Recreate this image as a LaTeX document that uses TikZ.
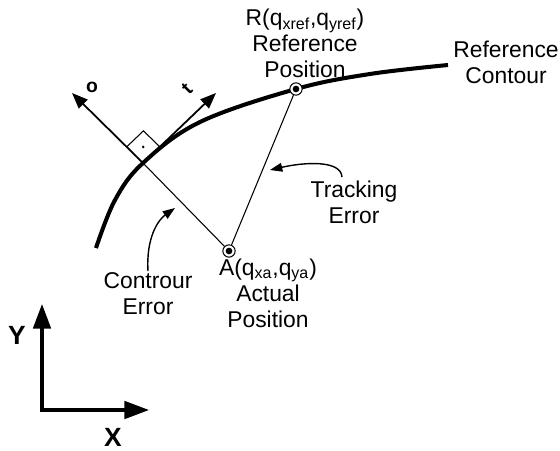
\documentclass[tikz,border=0pt]{standalone}
\usepackage{fontspec}
\setmainfont{Liberation Sans}
\usetikzlibrary{arrows.meta,calc}

\begin{document}
\begin{tikzpicture}[x=0.02cm, y=-0.02cm,
  every node/.style={font=\fontsize{13}{14.8}\selectfont, align=center, inner sep=0pt},
  contour/.style={line width=2.3pt},
  thinline/.style={line width=0.6pt},
  axis/.style={line width=1.8pt, {Triangle[length=14pt,width=10pt]}-{Triangle[length=14pt,width=10pt]}},
  vec/.style={line width=1pt, -{Triangle[length=9pt,width=7pt]}},
  note/.style={line width=0.8pt, -{Triangle[length=7pt,width=5pt]}},
  posmark/.style={circle, draw, line width=0.6pt, fill=white, minimum size=7pt},
  axlabel/.style={font=\fontsize{15}{18}\selectfont\bfseries},
  veclabel/.style={font=\fontsize{11}{13}\selectfont\bfseries}]
\useasboundingbox (0,0) rectangle (560,450);

% === Reference contour ===
\draw[contour] plot[smooth, tension=0.6] coordinates
  {(96,248) (115,200) (143,163) (200,122) (296,89) (370,74) (448,65)};

% === Points ===
\coordinate (F) at (143,163);
\coordinate (O) at (72,93);
\coordinate (T) at (216,93);
\node[posmark] (R) at (296,89) {};
\node[posmark] (A) at (229,251) {};
\fill (R) circle (1.9pt);
\fill (A) circle (1.9pt);

% Errors
\draw[thinline] (A) -- (F);
\draw[thinline] (A) -- (R);

% Normal and tangent
\draw[vec] (F) -- (O);
\draw[vec] (F) -- (T);
\coordinate (sqt) at ($(F)!0.23!(T)$);
\coordinate (sqo) at ($(F)!0.23!(O)$);
\draw[thinline] (sqt) -- ($(sqt)+(sqo)-(F)$) -- (sqo);
\fill ($(F)!0.5!($(sqt)+(sqo)-(F)$)$) circle (0.8pt);
\node[veclabel] (olab) at (92,87) {o};
\node[veclabel, rotate=45] (tlab) at (187,89) {t};

% === Labels ===
\node (rlab) at (305,43) {R(q\textsubscript{xref},q\textsubscript{yref})\\Reference\\Position};
\node (clab) at (506,62) {Reference\\Contour};
\node (trlab) at (354,202) {Tracking\\Error};
\node (elab) at (148,294) {Controur\\Error};
\node (alab) at (268,293) {A(q\textsubscript{xa},q\textsubscript{ya})\\Actual\\Position};

% Pointers
\coordinate (ts) at (342,177);
\coordinate (te) at (270,170);
\draw[note] (ts) .. controls (341,160) and (305,162) .. (te);
\coordinate (cs) at (148,271);
\coordinate (ce) at (175,208);
\draw[note] (cs) .. controls (146,238) and (158,220) .. (ce);

% === Axes ===
\coordinate (orig) at (42,410);
\coordinate (ytip) at (42,304);
\coordinate (xtip) at (149,410);
\draw[axis] (ytip) -- (orig) -- (xtip);
\node[axlabel] (ylab) at (17,335) {Y};
\node[axlabel] (xlab) at (113,437) {X};
\end{tikzpicture}
\end{document}
